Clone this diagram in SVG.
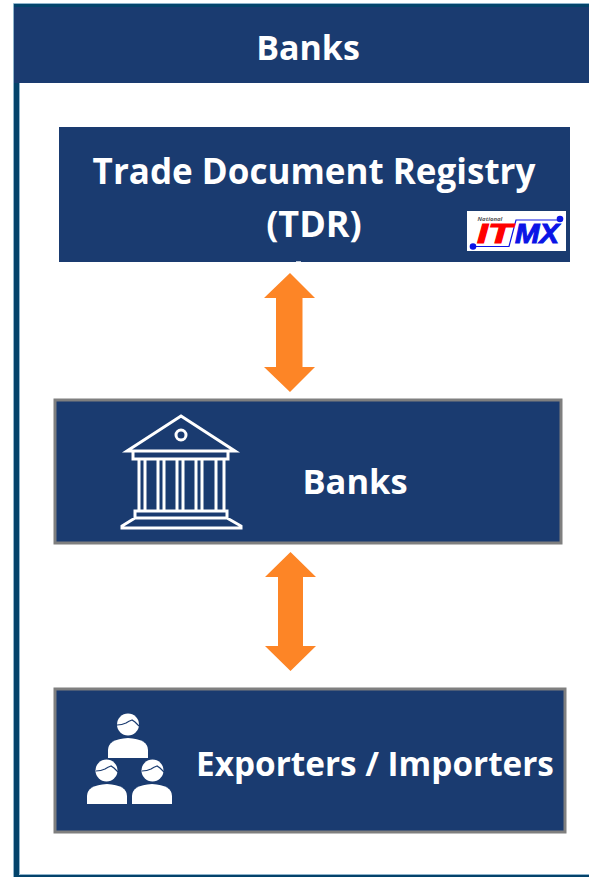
<svg xmlns="http://www.w3.org/2000/svg" width="589" height="877" viewBox="0 0 589 877">
<style>
text{font-family:"Open Sans","Noto Sans",sans-serif;font-weight:700;fill:#fff;text-anchor:middle}
.box{fill:#1a3b70;stroke:#7f7f7f;stroke-width:3}
.arrow{fill:#fd8526}
.ico{fill:none;stroke:#fff;stroke-width:3}
.w{fill:#fff}
.hair{fill:none;stroke:#1a3b70;stroke-width:1.200}
.logo{font-family:"Liberation Sans",sans-serif;font-style:italic;font-size:27px;stroke-width:1;text-anchor:start}
</style>
<rect width="589" height="877" fill="#fff"/>
<g id="frame">
<path d="M13 4H589V83H19V875H589V877H13Z" fill="#03436b"/>
<path d="M13.500 877V3.500H589M19.500 83V874.500H589" fill="none" stroke="#8fb4cc" stroke-width="1"/>
<rect x="14" y="7" width="575" height="76" fill="#1a3b70"/>
<text x="308" y="60" font-size="34">Banks</text>
</g>
<g id="connectors">
<path class="arrow" d="M290 273L315 298H302.500V367H315L290 392L264 367H276V298H264Z"/>
<path class="arrow" d="M290.500 552L316 577H303V646H316L290.500 671L265 646H278V577H265Z"/>
</g>
<g id="tdr">
<rect x="59" y="127" width="511" height="135" fill="#1a3b70"/>
<rect x="296" y="261" width="5" height="1" fill="#b8c4d6"/>
<text x="314" y="184" font-size="35">Trade Document Registry</text>
<text x="314" y="237" font-size="36">(TDR)</text>
<g id="itmx-logo">
<rect x="467" y="211" width="99" height="40" fill="#fff"/>
<text x="490" y="221" font-size="6" style="fill:#555;font-style:italic">National</text>
<path d="M473 246.500H509L516 220H560" fill="none" stroke="#0a14e6" stroke-width="1.200"/>
<circle cx="473" cy="246.500" r="3.300" fill="#0a14e6"/>
<circle cx="560" cy="219" r="3.300" fill="#0a14e6"/>
<text class="logo" x="477" y="243" textLength="35" lengthAdjust="spacingAndGlyphs" style="fill:#f00;stroke:#f00">IT</text>
<text class="logo" x="515" y="243" textLength="44" lengthAdjust="spacingAndGlyphs" style="fill:#0a14e6;stroke:#0a14e6">MX</text>
</g>
</g>
<g id="banks">
<rect class="box" x="55" y="400" width="506" height="143"/>
<text x="355" y="494" font-size="34.500">Banks</text>
<g id="bank-icon">
<path class="ico" d="M181 416L235 451H127Z"/>
<circle class="ico" cx="181" cy="435" r="5"/>
<path class="ico" d="M133 451V459H228V451M139 459V511H145V459M158 459V511H164V459M177 459V511H183V459M196 459V511H202V459M216 459V511H224V459M135 511V518H227V511ZM135 518L122 526V528H241V526L227 518"/>
</g>
</g>
<g id="exporters">
<rect class="box" x="55" y="689" width="510" height="143"/>
<text x="375" y="776" font-size="33.300">Exporters / Importers</text>
<g id="people-icon">
<g id="person-top">
<circle class="w" cx="128" cy="724.500" r="11"/>
<path class="w" d="M108 758V750Q108 739 128 738Q148 739 148 750V758Z"/>
<path class="hair" d="M117 725Q122 725 126 723Q129 721 132 720L135 722L139 726"/>
</g>
<g id="person-left">
<circle class="w" cx="106.500" cy="770.500" r="11"/>
<path class="w" d="M87 804V796Q87 785 107 784Q127 785 127 796V804Z"/>
<path class="hair" d="M96 771Q101 771 105 769Q108 767 111 766L114 768L118 772"/>
</g>
<g id="person-right">
<circle class="w" cx="152.500" cy="770.500" r="11"/>
<path class="w" d="M132 804V796Q132 785 152 784Q172 785 172 796V804Z"/>
<path class="hair" d="M142 771Q147 771 151 769Q154 767 157 766L160 768L164 772"/>
</g>
</g>
</g>
</svg>
